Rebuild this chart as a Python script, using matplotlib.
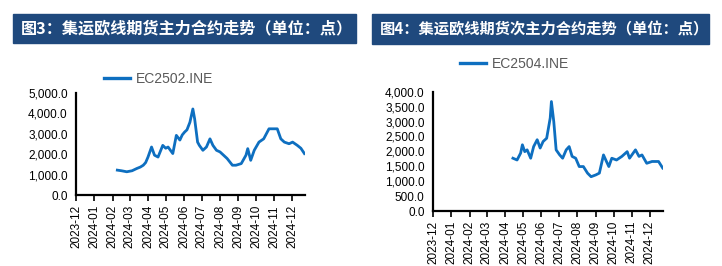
import matplotlib
matplotlib.use("Agg")
import matplotlib.pyplot as plt
import matplotlib.dates as mdates
from matplotlib.patches import Rectangle
from matplotlib.ticker import FuncFormatter, MultipleLocator
import pandas as pd

plt.rcParams["font.family"] = ["Liberation Sans", "DejaVu Sans"]

# EC2502.INE main contract
dates_2502 = [
    "2024-02-09", "2024-02-16", "2024-02-25", "2024-03-05", "2024-03-13",
    "2024-03-19", "2024-03-24", "2024-03-28", "2024-04-01", "2024-04-07",
    "2024-04-12", "2024-04-18", "2024-04-26", "2024-05-01", "2024-05-05",
    "2024-05-13", "2024-05-19", "2024-05-25", "2024-05-29", "2024-06-02",
    "2024-06-06", "2024-06-11", "2024-06-16", "2024-06-19", "2024-06-24",
    "2024-06-27", "2024-07-03", "2024-07-09", "2024-07-15", "2024-07-20",
    "2024-07-26", "2024-08-01", "2024-08-07", "2024-08-13", "2024-08-22",
    "2024-08-28", "2024-09-06", "2024-09-14", "2024-09-17", "2024-09-22",
    "2024-09-28", "2024-10-06", "2024-10-14", "2024-10-23", "2024-10-29",
    "2024-11-06", "2024-11-12", "2024-11-18", "2024-11-26", "2024-12-02",
    "2024-12-10", "2024-12-16", "2024-12-22",
]
values_2502 = [
    1230, 1200, 1150, 1200, 1310, 1380, 1470, 1600, 1870, 2360,
    1960, 1870, 2440, 2300, 2360, 2040, 2930, 2700, 2950, 3090,
    3200, 3570, 4220, 3740, 2600, 2440, 2200, 2360, 2760, 2440,
    2200, 2120, 1960, 1800, 1470, 1470, 1550, 1960, 2280, 1710,
    2200, 2600, 2760, 3250, 3250, 3250, 2760, 2600, 2520, 2600,
    2440, 2300, 2040,
]

# EC2504.INE second main contract
dates_2504 = [
    "2024-04-14", "2024-04-21", "2024-04-27", "2024-04-30", "2024-05-04",
    "2024-05-08", "2024-05-14", "2024-05-19", "2024-05-25", "2024-05-30",
    "2024-06-04", "2024-06-10", "2024-06-13", "2024-06-16", "2024-06-18",
    "2024-06-22", "2024-06-26", "2024-07-02", "2024-07-07", "2024-07-13",
    "2024-07-18", "2024-07-23", "2024-07-29", "2024-08-04", "2024-08-11",
    "2024-08-18", "2024-08-24", "2024-09-01", "2024-09-07", "2024-09-14",
    "2024-09-19", "2024-09-23", "2024-09-28", "2024-10-06", "2024-10-15",
    "2024-10-24", "2024-10-28", "2024-11-07", "2024-11-13", "2024-11-18",
    "2024-11-26", "2024-12-05", "2024-12-16", "2024-12-23",
]
values_2504 = [
    1770, 1710, 1940, 2220, 1990, 2050, 1770, 2160, 2390, 2110,
    2330, 2440, 2780, 3120, 3670, 3000, 2050, 1880, 1770, 2050,
    2160, 1830, 1770, 1490, 1490, 1270, 1150, 1210, 1270, 1880,
    1660, 1490, 1770, 1710, 1830, 1990, 1770, 2050, 1830, 1880,
    1600, 1660, 1660, 1440,
]

titles = [
    "图3：集运欧线期货主力合约走势（单位：点）",
    "图4：集运欧线期货次主力合约走势（单位：点）",
]
legend_labels = ["EC2502.INE", "EC2504.INE"]

LINE_COLOR = "#0E6FC0"
BAR_COLOR = "#1F497D"
CJK = ["Noto Sans CJK SC", "DejaVu Sans"]
W, H = 722, 266

fig = plt.figure(figsize=(W / 100, H / 100), dpi=100)

# title bars, pixel boxes converted to figure fraction
bars = [(13, 14, 356, 43, 11.6), (372, 14, 709, 44, 11)]
for (x0, y0, x1, y1, fs), title in zip(bars, titles):
    fig.patches.append(Rectangle(
        (x0 / W, 1 - y1 / H), (x1 - x0) / W, (y1 - y0) / H,
        transform=fig.transFigure, color=BAR_COLOR, zorder=0,
    ))
    fig.text((x0 + 8) / W, 1 - (y0 + y1) / 2 / H, title,
             family=CJK, weight="bold", color="white",
             fontsize=fs, ha="left", va="center")

panels = [
    dict(rect=[76 / W, 1 - 195.3 / H, 229 / W, 102.3 / H],
         dates=dates_2502, values=values_2502, ymax=5000, step=1000,
         legend=legend_labels[0], leg_xy=(104, 79)),
    dict(rect=[433 / W, 1 - 211 / H, 229.7 / W, 119.3 / H],
         dates=dates_2504, values=values_2504, ymax=4000, step=500,
         legend=legend_labels[1], leg_xy=(460, 64)),
]

for p in panels:
    ax = fig.add_axes(p["rect"])
    x = pd.to_datetime(p["dates"])
    ax.plot(x, p["values"], color=LINE_COLOR, lw=2.0, label=p["legend"])
    ax.set_xlim(pd.Timestamp("2023-12-01"), pd.Timestamp("2024-12-23"))
    ax.set_ylim(0, p["ymax"])
    ax.yaxis.set_major_locator(MultipleLocator(p["step"]))
    ax.yaxis.set_major_formatter(FuncFormatter(lambda v, _: f"{v:,.1f}"))
    ax.xaxis.set_major_locator(mdates.MonthLocator())
    ax.xaxis.set_major_formatter(mdates.DateFormatter("%Y-%m"))
    for s in ("top", "right"):
        ax.spines[s].set_visible(False)
    for s in ("left", "bottom"):
        ax.spines[s].set_linewidth(1.6)
    ax.tick_params(axis="y", length=0, pad=6, labelsize=8.5)
    ax.tick_params(axis="x", length=4, width=1.2, direction="out",
                   labelsize=8.5, labelrotation=90, pad=3)
    lx, ly = p["leg_xy"]
    leg = ax.legend(loc="center left", bbox_to_anchor=(lx / W, 1 - ly / H),
                    bbox_transform=fig.transFigure, frameon=False,
                    fontsize=10, handlelength=1.9, handletextpad=0.4,
                    borderaxespad=0, borderpad=0)
    leg.get_lines()[0].set_linewidth(2.4)
    for t in leg.get_texts():
        t.set_color("#595959")

fig.savefig("out.png", dpi=100)
